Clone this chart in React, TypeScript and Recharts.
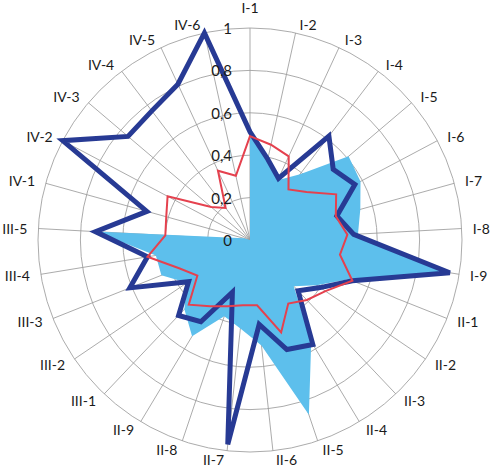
import { RadarChart, Radar, PolarGrid, PolarAngleAxis, PolarRadiusAxis } from 'recharts';

const categories = [
  'I-1', 'I-2', 'I-3', 'I-4', 'I-5', 'I-6', 'I-7', 'I-8', 'I-9',
  'II-1', 'II-2', 'II-3', 'II-4', 'II-5', 'II-6', 'II-7', 'II-8', 'II-9',
  'III-1', 'III-2', 'III-3', 'III-4', 'III-5',
  'IV-1', 'IV-2', 'IV-3', 'IV-4', 'IV-5', 'IV-6',
];

// thick dark blue line
const navyValues = [
  0.51, 0.39, 0.32, 0.615, 0.515, 0.56, 0.425, 0.49, 0.955,
  0.52, 0.4, 0.33, 0.575, 0.545, 0.4, 0.97, 0.26, 0.45,
  0.49, 0.35, 0.61, 0.49, 0.73,
  0.505, 1.0, 0.755, 0.765, 0.81, 1.0,
];

// thin red line
const redValues = [
  0.49, 0.46, 0.435, 0.3, 0.35, 0.46, 0.42, 0.46, 0.43,
  0.52, 0.43, 0.39, 0.35, 0.46, 0.31, 0.31, 0.33, 0.365,
  0.42, 0.3, 0.36, 0.49, 0.4,
  0.41, 0.44, 0.24, 0.19, 0.36, 0.31,
];

// light blue filled area
const areaValues = [
  0.5, 0.38, 0.31, 0.39, 0.61, 0.59, 0.54, 0.51, 0.95,
  0.5, 0.38, 0.3, 0.56, 0.87, 0.5, 0.42, 0.38, 0.53,
  0.45, 0.36, 0.45, 0.45, 0.73,
  0.03, 0, 0, 0, 0, 0,
];

const radiusTicks = [0, 0.2, 0.4, 0.6, 0.8, 1];

const CX = 250;
const CY = 240;
const R = 212;

const data = categories.map((name, i) => ({
  name,
  navy: navyValues[i],
  red: redValues[i],
  area: areaValues[i],
}));

function AngleTick(props: any) {
  const { payload } = props;
  const rad = (payload.coordinate * Math.PI) / 180;
  const s = Math.cos(rad);
  const c = Math.sin(rad);
  const px = CX + R * s;
  const py = CY - R * c;
  const anchor = Math.abs(s) < 0.02 ? 'middle' : s > 0 ? 'start' : 'end';
  const x = px + s * 9 + (anchor === 'middle' ? 0 : Math.sign(s) * 2);
  // the label straight above the top sits higher
  const y = py - c * 9 - (anchor === 'middle' && c > 0 ? 12 : 0);
  return (
    <text x={x} y={y} textAnchor={anchor} dominantBaseline="central" fontSize={14} fontFamily="Lato" fill="#1a1a1a">
      {payload.value}
    </text>
  );
}

function RadiusTick(props: any) {
  const { y, payload } = props;
  return (
    <text x={CX - 18} y={y} textAnchor="end" dominantBaseline="central" fontSize={15} fontFamily="Lato" fill="#1a1a1a">
      {String(payload.value).replace('.', ',')}
    </text>
  );
}

export default function App() {
  return (
    <div style={{ position: 'absolute', left: 0, top: 0, width: 491, height: 469, background: '#fff' }}>
      <RadarChart width={491} height={469} data={data} cx={CX} cy={CY} outerRadius={R}>
        <Radar
          dataKey="area"
          stroke="none"
          fill="#5dbfec"
          fillOpacity={1}
          isAnimationActive={false}
        />
        <PolarGrid gridType="circle" stroke="#9c9c9c" strokeOpacity={0.85} />
        <PolarAngleAxis dataKey="name" tick={AngleTick} tickLine={false} axisLine={false} />
        <PolarRadiusAxis
          angle={90}
          domain={[0, 1]}
          ticks={radiusTicks as any}
          tick={RadiusTick}
          axisLine={false}
          tickLine={false}
        />
        <Radar
          dataKey="navy"
          stroke="#273a94"
          strokeWidth={5}
          strokeLinejoin="miter"
          fill="none"
          fillOpacity={0}
          isAnimationActive={false}
        />
        <Radar
          dataKey="red"
          stroke="#e5414e"
          strokeWidth={2}
          fill="none"
          fillOpacity={0}
          isAnimationActive={false}
        />
      </RadarChart>
    </div>
  );
}
